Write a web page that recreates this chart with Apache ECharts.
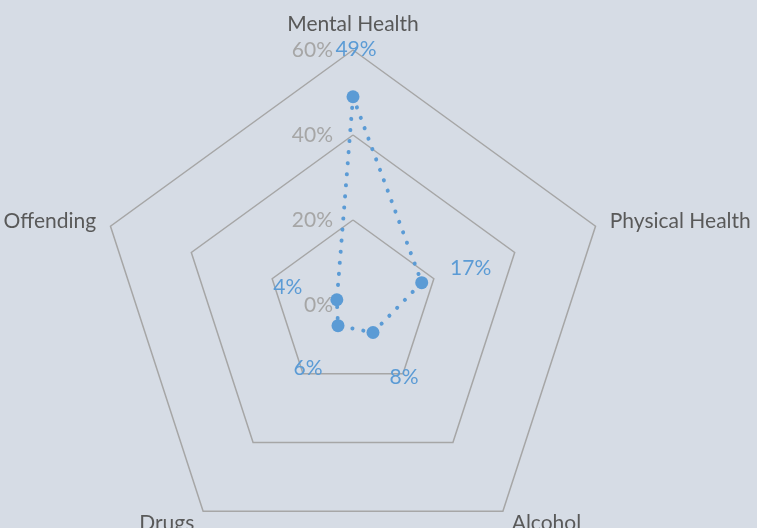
<!DOCTYPE html>
<html>
<head>
<meta charset="utf-8">
<script src="https://cdn.jsdelivr.net/npm/echarts@6/dist/echarts.min.js"></script>
<style>
  html, body { margin: 0; padding: 0; background: #d6dce5; }
  #chart { width: 757px; height: 528px; }
</style>
</head>
<body>
<div id="chart"></div>
<script>
// categories and values (percent), clockwise from the top
var categories = ['Mental Health', 'Physical Health', 'Alcohol', 'Drugs', 'Offending']
var values = [49, 17, 8, 6, 4]
var axisMax = 60
var axisTicks = [0, 20, 40, 60]

// where the data labels sit, relative to each point (like the Excel chart)
var labelShift = [[3, -48], [49, -14], [31, 45], [-30, 43], [-49, -13]]

// echarts radar runs counter-clockwise, so walk the axes backwards
var order = [0, 4, 3, 2, 1]
var font = 'Lato'

var rich = {}
labelShift.forEach(function (s, i) {
  var dx = s[0], dy = s[1]
  rich['d' + i] = {
    color: '#5b9bd5',
    fontSize: 21,
    fontFamily: font,
    padding: [dy > 0 ? 2 * dy : 0, dx < 0 ? -2 * dx : 0, dy < 0 ? -2 * dy : 0, dx > 0 ? 2 * dx : 0]
  }
})

var chart = echarts.init(document.getElementById('chart'))
var option = {
  backgroundColor: '#d6dce5',
  radar: {
    center: [353, 305],
    radius: 255,
    startAngle: 90,
    shape: 'polygon',
    splitNumber: axisTicks.length - 1,
    axisName: {
      color: '#595959',
      fontSize: 21,
      fontFamily: font
    },
    nameGap: 15,
    axisLine: { show: false },
    axisTick: { show: false },
    splitArea: { show: false },
    splitLine: {
      lineStyle: { color: '#a6a6a6', width: 1.5 }
    },
    indicator: order.map(function (k, i) {
      return {
        name: categories[k],
        min: 0,
        max: axisMax,
        axisLabel: {
          show: i === 0,
          color: '#a6a6a6',
          fontSize: 21,
          fontFamily: font,
          padding: [0, 12, 0, 0],
          formatter: '{value}%'
        }
      }
    })
  },
  series: [
    {
      type: 'radar',
      symbol: 'circle',
      symbolSize: 13,
      itemStyle: { color: '#5b9bd5' },
      lineStyle: { color: '#5b9bd5', width: 4, type: [0.1, 11], cap: 'round' },
      label: {
        show: true,
        position: 'inside',
        formatter: function (p) {
          var i = values.indexOf(p.value)
          return '{d' + i + '|' + p.value + '%}'
        },
        rich: rich
      },
      data: [{ value: order.map(function (k) { return values[k] }), name: 'Share' }]
    }
  ]
}
chart.setOption(option)
</script>
</body>
</html>
